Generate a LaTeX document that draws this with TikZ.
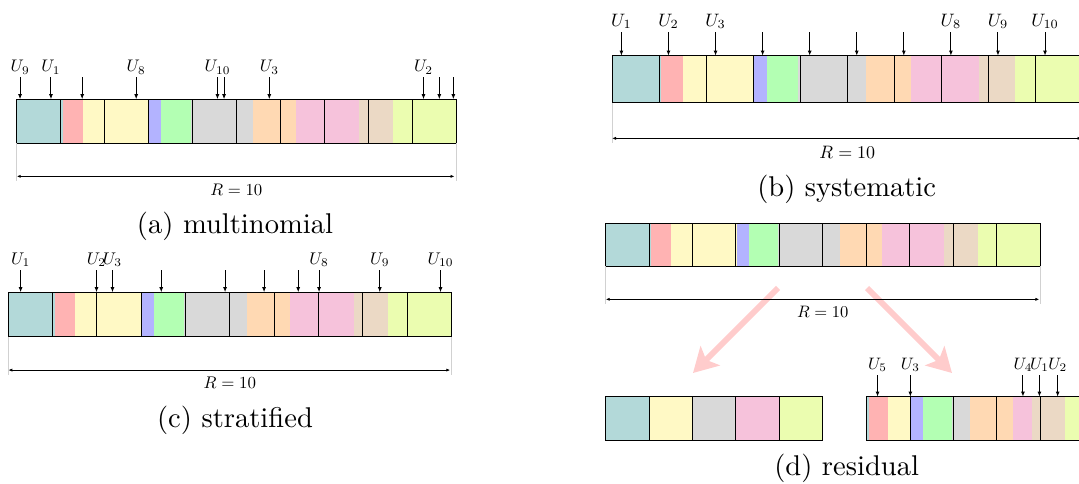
\documentclass[tikz,border=0pt]{standalone}
\usetikzlibrary{arrows.meta}
\definecolor{cTeal}{RGB}{179,217,217}
\definecolor{cRed}{RGB}{255,179,179}
\definecolor{cYellow}{RGB}{255,249,197}
\definecolor{cBlue}{RGB}{179,179,255}
\definecolor{cGreen}{RGB}{179,255,179}
\definecolor{cGrey}{RGB}{217,217,217}
\definecolor{cOrange}{RGB}{255,217,179}
\definecolor{cPink}{RGB}{246,194,219}
\definecolor{cTan}{RGB}{235,217,197}
\definecolor{cLime}{RGB}{235,253,176}
\definecolor{cBig}{RGB}{255,204,204}
\newcommand\fullsegs{%
  \foreach \a/\b/\c in {0/1.05/cTeal,1.05/1.50/cRed,1.50/3.02/cYellow,3.02/3.29/cBlue,3.29/3.96/cGreen,3.96/5.39/cGrey,5.39/6.36/cOrange,6.36/7.80/cPink,7.80/8.57/cTan,8.57/10/cLime}
    {\fill[\c] (\a,0) rectangle (\b,1);}%
  \foreach \i in {1,...,9} {\draw[cell] (\i,0) -- (\i,1);}%
  \draw[cell] (0,0) rectangle (10,1);%
}
\newcommand\dimline[1]{%
  \draw[ext] (0,1) -- (0,1.86);%
  \draw[ext] (10,1) -- (10,1.86);%
  \coordinate (#1L) at (0,1.76);%
  \coordinate (#1R) at (10,1.76);%
  \draw[dim] (#1L) -- (#1R);%
  \node[ulab] (#1Rlab) at (5,2.18) {$R=10$};%
}
\begin{document}
\begin{tikzpicture}[x=0.35pt,y=-0.35pt,
  cell/.style={draw=black,line width=0.35pt},
  ulab/.style={anchor=base,inner sep=0pt,scale=\ps},
  uarr/.style={-{Latex[length=1.8pt,width=1.4pt]},line width=0.35pt},
  dim/.style={{Latex[length=1.4pt,width=1.1pt]}-{Latex[length=1.4pt,width=1.1pt]},line width=0.3pt},
  ext/.style={draw=black!18,line width=0.35pt},
  caption/.style={anchor=base,inner sep=0pt,font=\normalsize},
  bigarr/.style={draw=cBig,line width=2pt,-{Stealth[length=8.5pt,width=9.5pt,inset=2pt]}}
]
\useasboundingbox (0,0) rectangle (1079,484);
\clip (0,0) rectangle (1079,484);

% (d) big pink arrows
\coordinate (pL1) at (778,288);
\coordinate (pL2) at (693,373);
\coordinate (pR1) at (867,288);
\coordinate (pR2) at (952,373);
\draw[bigarr] (pL1) -- (pL2);
\draw[bigarr] (pR1) -- (pR2);

% (a) multinomial
\begin{scope}[shift={(16.7,99.3)},scale=43.93]
\def\ps{0.587}
\fullsegs
\foreach \p/\l/\n in {0.076/U_9/a9,0.78/U_1/a1,2.72/U_8/a8,4.57/U_{10}/a10,5.75/U_3/a3,9.26/U_2/a2}
  {\node[ulab] (\n) at (\p,-0.63) {$\l$}; \draw[uarr] (\p,-0.5) -- (\p,0);}
\foreach \p in {1.49,4.72,9.62,9.94} {\draw[uarr] (\p,-0.5) -- (\p,0);}
\dimline{a}
\end{scope}

% (b) systematic
\begin{scope}[shift={(612,55.7)},scale=47.07]
\def\ps{0.629}
\fullsegs
\foreach \p/\l/\n in {0.2/U_1/b1,1.2/U_2/b2,2.2/U_3/b3,7.2/U_8/b8,8.2/U_9/b9,9.2/U_{10}/b10}
  {\node[ulab] (\n) at (\p,-0.63) {$\l$}; \draw[uarr] (\p,-0.5) -- (\p,0);}
\foreach \p in {3.2,4.2,5.2,6.2} {\draw[uarr] (\p,-0.5) -- (\p,0);}
\dimline{b}
\end{scope}

% (c) stratified
\begin{scope}[shift={(8.3,292.3)},scale=44.33]
\def\ps{0.592}
\fullsegs
\foreach \p/\l/\n in {0.278/U_1/c1,1.99/U_2/c2,2.35/U_3/c3,7.01/U_8/c8,8.38/U_9/c9,9.75/U_{10}/c10}
  {\node[ulab] (\n) at (\p,-0.63) {$\l$}; \draw[uarr] (\p,-0.5) -- (\p,0);}
\foreach \p in {3.45,4.89,5.77,6.54} {\draw[uarr] (\p,-0.5) -- (\p,0);}
\dimline{c}
\end{scope}

% (d) residual: top bar
\begin{scope}[shift={(605.7,223)},scale=43.43]
\def\ps{0.580}
\fullsegs
\dimline{d}
\end{scope}

% (d) floor part
\begin{scope}[shift={(605.7,396.7)},scale=43.4]
\foreach \a/\c in {0/cTeal,1/cYellow,2/cGrey,3/cPink,4/cLime}
  {\fill[\c] (\a,0) rectangle ({\a+1},1);}
\foreach \i in {1,...,4} {\draw[cell] (\i,0) -- (\i,1);}
\draw[cell] (0,0) rectangle (5,1);
\end{scope}

% (d) residual part
\begin{scope}[shift={(866.7,396.7)},scale=43.4]
\def\ps{0.580}
\foreach \a/\b/\c in {0/0.05/cTeal,0.05/0.50/cRed,0.50/1.02/cYellow,1.02/1.29/cBlue,1.29/1.96/cGreen,1.96/2.39/cGrey,2.39/3.36/cOrange,3.36/3.80/cPink,3.80/4.57/cTan,4.57/5/cLime}
  {\fill[\c] (\a,0) rectangle (\b,1);}
\foreach \i in {1,...,4} {\draw[cell] (\i,0) -- (\i,1);}
\draw[cell] (0,0) rectangle (5,1);
\foreach \p/\l/\n in {0.25/U_5/r5,1.006/U_3/r3,3.60/U_4/r4,3.98/U_1/r1,4.40/U_2/r2}
  {\node[ulab] (\n) at (\p,-0.63) {$\l$}; \draw[uarr] (\p,-0.5) -- (\p,0);}
\end{scope}

% captions
\node[caption] (capA) at (235,233.3) {(a) multinomial};
\node[caption] (capB) at (846.7,196.7) {(b) systematic};
\node[caption] (capC) at (235,427.7) {(c) stratified};
\node[caption] (capD) at (846.7,475) {(d) residual};
\end{tikzpicture}
\end{document}
